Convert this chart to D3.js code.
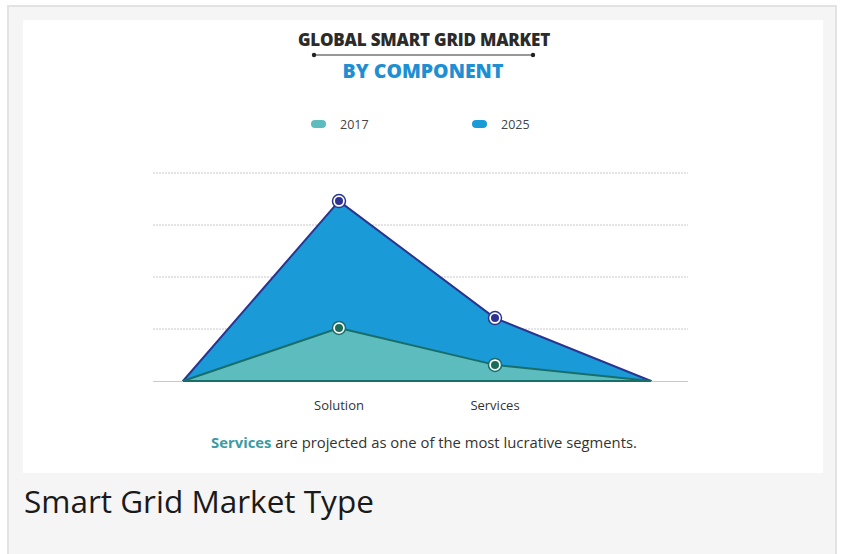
<!DOCTYPE html>
<html>
<head>
<meta charset="utf-8">
<script src="https://cdn.jsdelivr.net/npm/d3@7"></script>
<style>
  body { margin: 0; background: #ffffff; }
  text { font-family: "Open Sans", sans-serif; }
</style>
</head>
<body>
<div id="chart"></div>
<script>
// size of the picture
const width = 842; const height = 554;

// data
const positions = ["start", "Solution", "Services", "end"];
const categories = ["Solution", "Services"];
const years = ["2017", "2025"];
const values2017 = [0, 1.02, 0.31, 0];
const values2025 = [0, 3.46, 1.21, 0];
const gridTicks = [1, 2, 3, 4];

const fillColor = {"2017": "#5cbcbe", "2025": "#1b9ad8"};
const lineColor = {"2017": "#186e69", "2025": "#2b3590"};
const dotColor = {"2017": "#1c6b58", "2025": "#2e3192"};

let svg = d3.select('#chart')
    .append('svg')
        .attr('width', width)
        .attr('height', height);

// frame
svg.append('rect')
    .attr('x', 0).attr('y', 0).attr('width', width).attr('height', height)
    .attr('fill', '#ffffff');
svg.append('rect')
    .attr('x', 8).attr('y', 6).attr('width', 828).attr('height', 560)
    .attr('fill', '#f5f5f5')
    .attr('stroke', '#e3e3e3')
    .attr('stroke-width', 2);
svg.append('rect')
    .attr('x', 23).attr('y', 20).attr('width', 800).attr('height', 453)
    .attr('fill', '#ffffff');

// titles
svg.append('text')
    .attr('x', 424).attr('y', 46)
    .attr('text-anchor', 'middle')
    .attr('font-size', 17)
    .attr('font-weight', 800)
    .attr('fill', '#2b2b2b')
    .attr('letter-spacing', -0.2)
    .text('GLOBAL SMART GRID MARKET');
svg.append('line')
    .attr('x1', 314).attr('x2', 533).attr('y1', 55).attr('y2', 55)
    .attr('stroke', '#333').attr('stroke-width', 1.2);
svg.selectAll('.tdot')
    .data([314, 533])
    .join('circle')
        .attr('cx', d => d).attr('cy', 55).attr('r', 2.2)
        .attr('fill', '#222');
svg.append('text')
    .attr('x', 423).attr('y', 78)
    .attr('text-anchor', 'middle')
    .attr('font-size', 19.5)
    .attr('font-weight', 800)
    .attr('fill', '#1f8fd3')
    .text('BY COMPONENT');

// legend
const legendX = {"2017": 311, "2025": 472};
years.forEach(function(y){
    svg.append('rect')
        .attr('x', legendX[y]).attr('y', 120)
        .attr('width', 15).attr('height', 8).attr('rx', 4)
        .attr('fill', fillColor[y]);
    svg.append('text')
        .attr('x', legendX[y] + 29).attr('y', 129)
        .attr('font-size', 12.5)
        .attr('fill', '#444')
        .text(y);
});

// scales
const x_scale = d3.scalePoint()
    .domain(positions)
    .range([183, 651]);
const y_scale = d3.scaleLinear()
    .domain([0, 4])
    .range([381, 173]);

// grid
svg.append('g')
    .selectAll('line')
    .data(gridTicks)
    .join('line')
        .attr('x1', 153).attr('x2', 688)
        .attr('y1', d => y_scale(d)).attr('y2', d => y_scale(d))
        .attr('stroke', '#c8c8c8')
        .attr('stroke-width', 1)
        .attr('stroke-dasharray', '2,1');

const area = d3.area()
    .x((d, i) => x_scale(positions[i]))
    .y0(y_scale(0))
    .y1(d => y_scale(d));

const series = [
    {key: "2025", values: values2025},
    {key: "2017", values: values2017}
];

series.forEach(function(s){
    svg.append('path')
        .datum(s.values)
        .attr('d', area)
        .attr('fill', fillColor[s.key])
        .attr('stroke', lineColor[s.key])
        .attr('stroke-width', 2)
        .attr('stroke-linejoin', 'round');
});

// baseline
svg.append('line')
    .attr('x1', 153).attr('x2', 688)
    .attr('y1', y_scale(0) + 0.5).attr('y2', y_scale(0) + 0.5)
    .attr('stroke', '#c8c8d0').attr('stroke-width', 1);
svg.append('line')
    .attr('x1', x_scale("start")).attr('x2', x_scale("end"))
    .attr('y1', y_scale(0)).attr('y2', y_scale(0))
    .attr('stroke', lineColor["2017"]).attr('stroke-width', 2);

// markers
series.forEach(function(s){
    const pts = categories.map(c => ({c: c, v: s.values[positions.indexOf(c)]}));
    const g = svg.append('g');
    g.selectAll('circle.ring')
        .data(pts)
        .join('circle')
            .attr('cx', d => x_scale(d.c)).attr('cy', d => y_scale(d.v))
            .attr('r', 6.5)
            .attr('fill', '#ffffff')
            .attr('stroke', lineColor[s.key])
            .attr('stroke-width', 1.5);
    g.selectAll('circle.dot')
        .data(pts)
        .join('circle')
            .attr('cx', d => x_scale(d.c)).attr('cy', d => y_scale(d.v))
            .attr('r', 4)
            .attr('fill', dotColor[s.key]);
});

// category labels
svg.append('g')
    .selectAll('text')
    .data(categories)
    .join('text')
        .attr('x', d => x_scale(d))
        .attr('y', 410)
        .attr('text-anchor', 'middle')
        .attr('font-size', 13)
        .attr('fill', '#333')
        .text(d => d);

// note
const note = svg.append('text')
    .attr('x', 424).attr('y', 448)
    .attr('text-anchor', 'middle')
    .attr('font-size', 14.8)
    .attr('fill', '#333');
note.append('tspan')
    .attr('font-weight', 700)
    .attr('fill', '#3b9ba2')
    .text('Services');
note.append('tspan')
    .text(' are projected as one of the most lucrative segments.');

// caption
svg.append('text')
    .attr('x', 24).attr('y', 513)
    .attr('font-size', 31.5)
    .attr('fill', '#1a1a1a')
    .text('Smart Grid Market Type');
</script>
</body>
</html>
